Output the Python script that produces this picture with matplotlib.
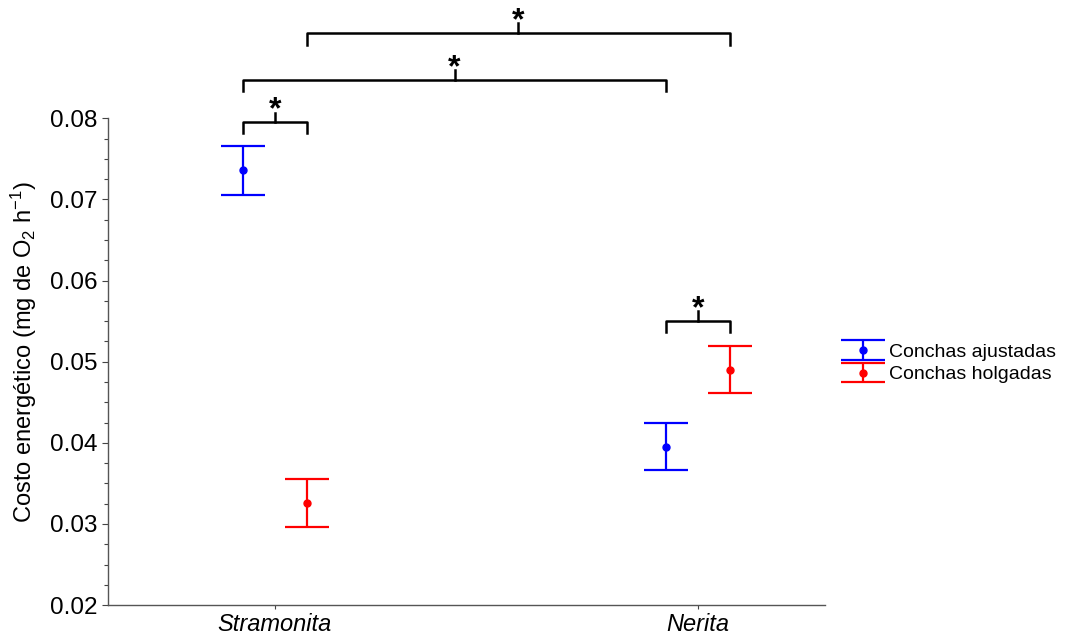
import matplotlib.pyplot as plt
from matplotlib.ticker import MultipleLocator

plt.rcParams['font.family'] = ['Liberation Sans', 'DejaVu Sans']
plt.rcParams['mathtext.fontset'] = 'custom'
plt.rcParams['mathtext.rm'] = 'Liberation Sans'
plt.rcParams['mathtext.default'] = 'regular'

# Datos
especies = ['Stramonita', 'Nerita']
ajustadas_media = [0.0736, 0.0395]
ajustadas_err = [0.0030, 0.0029]
holgadas_media = [0.0326, 0.0490]
holgadas_err = [0.0030, 0.0029]
etiquetas = ['Conchas ajustadas', 'Conchas holgadas']

fig = plt.figure(figsize=(10.67, 6.43), dpi=100)
ax = fig.add_axes([0.101, 0.059, 0.672, 0.757])

d = 0.075
x = [0, 1]
xa = [i - d for i in x]
xh = [i + d for i in x]

ax.errorbar(xa, ajustadas_media, yerr=ajustadas_err, fmt='o', color='blue',
            markersize=5, capsize=15.5, elinewidth=1.6, capthick=1.6, label=etiquetas[0])
ax.errorbar(xh, holgadas_media, yerr=holgadas_err, fmt='o', color='red',
            markersize=5, capsize=15.5, elinewidth=1.6, capthick=1.6, label=etiquetas[1])

ax.set_xlim(-0.395, 1.30)
ax.set_ylim(0.02, 0.08)
ax.set_xticks(x)
ax.set_xticklabels(especies, fontstyle='italic', fontsize=17)
ax.yaxis.set_major_locator(MultipleLocator(0.01))
ax.yaxis.set_minor_locator(MultipleLocator(0.0025))
ax.set_yticklabels([f'{v:.2f}' for v in ax.get_yticks()])
ax.tick_params(axis='y', labelsize=17.5, length=4, width=0.8, colors='#444444', labelcolor='black')
ax.tick_params(axis='y', which='minor', length=3, width=0.8, colors='#444444')
ax.tick_params(axis='x', labelsize=17, length=3, width=0.8, colors='#444444', labelcolor='black', pad=3)
ax.set_ylabel('Costo energético (mg de O$_2$ h$^{-1}$)', fontsize=17)
ax.yaxis.set_label_coords(-0.096, 0.52)

for s in ['top', 'right']:
    ax.spines[s].set_visible(False)
for s in ['left', 'bottom']:
    ax.spines[s].set_color('#555555')
    ax.spines[s].set_linewidth(1)


# Corchetes de significancia
def corchete(x1, x2, y, h):
    ax.plot([x1, x1, x2, x2], [y - h, y, y, y - h], color='black', lw=1.8, clip_on=False)
    xm = (x1 + x2) / 2
    ax.plot([xm, xm], [y, y + 0.0012], color='black', lw=1.8, clip_on=False)
    ax.text(xm, y + 0.0005, '*', ha='center', va='baseline', fontsize=23, fontweight='bold', clip_on=False)


corchete(xa[0], xh[0], 0.0795, 0.0013)
corchete(xa[0], xa[1], 0.0847, 0.0013)
corchete(xh[0], xh[1], 0.0905, 0.0015)
corchete(xa[1], xh[1], 0.0550, 0.0013)

fig.legend(loc='center left', bbox_to_anchor=(0.778, 0.435), frameon=False, fontsize=14,
           handlelength=1.6, handletextpad=0.55, labelspacing=0.25)

fig.savefig('out.png', dpi=100)
